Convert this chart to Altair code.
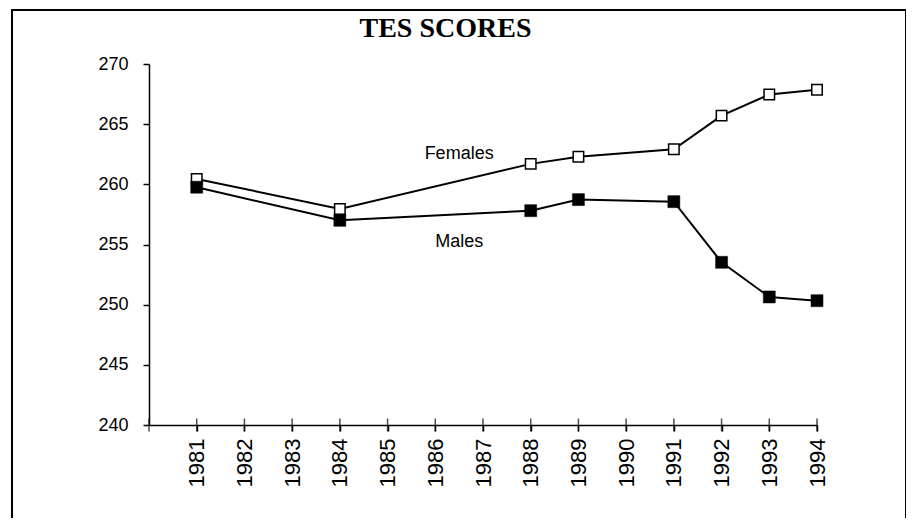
import altair as alt
import pandas as pd

# ---- data ----
years = [1981, 1984, 1988, 1989, 1991, 1992, 1993, 1994]
females = [260.45, 257.96, 261.70, 262.30, 262.92, 265.71, 267.46, 267.87]
males = [259.76, 257.01, 257.81, 258.73, 258.56, 253.52, 250.64, 250.33]

tick_years = list(range(1980, 1995))
label_years = list(range(1981, 1995))
y_ticks = [240, 245, 250, 255, 260, 265, 270]

series_labels = ["Females", "Males"]
label_x = [1986.5, 1986.5]
label_y = [262.09, 254.77]

title_text = "TES SCORES"

df_f = pd.DataFrame({"year": years, "score": females})
df_m = pd.DataFrame({"year": years, "score": males})
df_lab = pd.DataFrame({"text": series_labels, "year": label_x, "score": label_y})
df_ticks = pd.DataFrame({"year": tick_years})
one = pd.DataFrame({"a": [0]})

xscale = alt.Scale(domain=[1980, 1994], nice=False, zero=False)
yscale = alt.Scale(domain=[240, 270], nice=False, zero=False)

x_axis = alt.Axis(
    values=label_years, format="d", labelAngle=-90, title=None, grid=False,
    labelFont="Liberation Sans", labelFontSize=22, labelColor="black",
    labelPadding=7, tickSize=6, tickColor="black", tickWidth=1.5,
    domainColor="black", domainWidth=1.5,
)
y_axis = alt.Axis(
    values=y_ticks, format="d", title=None, grid=False,
    labelFont="Liberation Sans", labelFontSize=18, labelColor="black",
    labelPadding=15, tickSize=6, tickColor="black", tickWidth=1.5,
    domainColor="black", domainWidth=1.5,
)

X = alt.X("year:Q", scale=xscale, axis=x_axis)
Y = alt.Y("score:Q", scale=yscale, axis=y_axis)

border = alt.Chart(one).mark_rect(
    fill="transparent", stroke="black", strokeWidth=2, clip=False
).encode(
    x=alt.value(-137), x2=alt.value(757), y=alt.value(-54), y2=alt.value(700)
)

title = alt.Chart(one).mark_text(
    font="Liberation Serif", fontSize=28, fontWeight="bold", color="black",
    align="center", baseline="alphabetic"
).encode(x=alt.value(296.5), y=alt.value(-27), text=alt.value(title_text))

xticks = alt.Chart(df_ticks).mark_tick(
    color="black", size=13, thickness=1.5, orient="vertical"
).encode(x=alt.X("year:Q", scale=xscale), y=alt.value(361))

line_f = alt.Chart(df_f).mark_line(color="black", strokeWidth=2).encode(x=X, y=Y)
line_m = alt.Chart(df_m).mark_line(color="black", strokeWidth=2).encode(x=X, y=Y)
pts_f = alt.Chart(df_f).mark_point(
    shape="square", size=110, filled=True, fill="white", stroke="black",
    strokeWidth=1.5, opacity=1
).encode(x=X, y=Y)
pts_m = alt.Chart(df_m).mark_point(
    shape="square", size=144, filled=True, fill="black", stroke="black",
    strokeWidth=0.5, opacity=1
).encode(x=X, y=Y)

labels = alt.Chart(df_lab).mark_text(
    font="Liberation Sans", fontSize=18, color="black", align="center",
    baseline="alphabetic"
).encode(x=alt.X("year:Q", scale=xscale), y=alt.Y("score:Q", scale=yscale),
         text="text:N")

chart = alt.layer(
    border, title, line_f, line_m, xticks, pts_f, pts_m, labels
).properties(
    width=668, height=361,
    autosize=alt.AutoSizeParams(type="none"),
    padding={"left": 141, "top": 56, "right": 89, "bottom": 93},
).configure_view(stroke=None)

chart.save("out.html", embed_options={"renderer": "svg", "actions": False})
